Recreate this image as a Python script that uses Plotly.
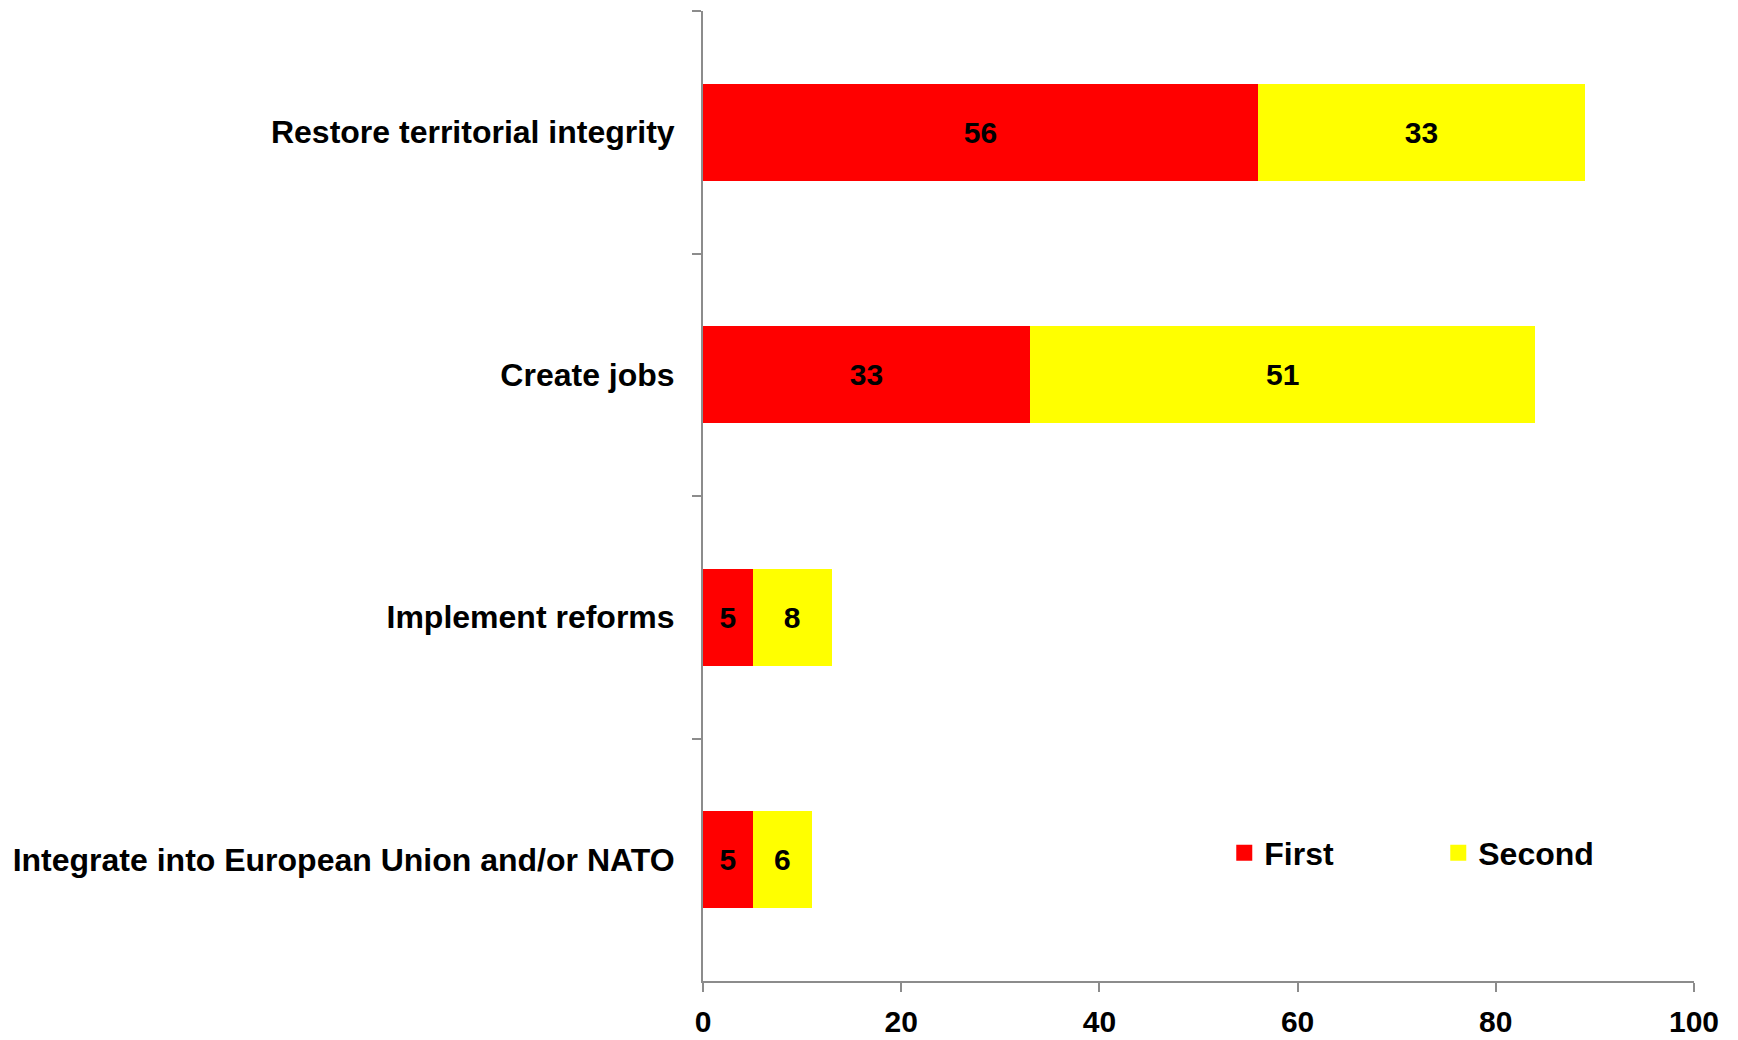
import plotly.graph_objects as go

# Survey priorities: share naming each item as first / second priority (%)
categories = [
    "Restore territorial integrity",
    "Create jobs",
    "Implement reforms",
    "Integrate into European Union and/or NATO",
]
first_values = [56, 33, 5, 5]
second_values = [33, 51, 8, 6]
x_ticks = [0, 20, 40, 60, 80, 100]

series = [
    ("First", first_values, "#FF0000"),
    ("Second", second_values, "#FFFF00"),
]

FONT = "Liberation Sans, Arial, sans-serif"
AXIS_GREY = "#8c8c8c"

fig = go.Figure()
for name, values, color in series:
    fig.add_trace(go.Bar(
        name=name, y=categories, x=values, orientation="h",
        marker=dict(color=color, line=dict(width=0)),
        text=values, textposition="inside", insidetextanchor="middle",
        textangle=0, constraintext="none",
        textfont=dict(family=FONT, size=30, color="black", weight="bold"),
        showlegend=False,
    ))
# legend swatches (larger squares than the default bar swatch)
for name, values, color in series:
    fig.add_trace(go.Scatter(
        name=name, x=[None], y=[None], mode="markers",
        marker=dict(symbol="square", size=17, color=color),
        showlegend=True, hoverinfo="skip",
    ))

fig.update_layout(
    barmode="stack",
    bargap=0.6,
    width=1738, height=1040,
    margin=dict(l=703, r=44, t=11, b=59),
    plot_bgcolor="white", paper_bgcolor="white",
    font=dict(family=FONT, color="black", weight="bold"),
    showlegend=True,
    legend=dict(
        orientation="h", traceorder="normal",
        x=0.526, y=0.132, xanchor="left", yanchor="middle",
        entrywidth=169, entrywidthmode="pixels",
        font=dict(family=FONT, size=32, color="black", weight="bold"),
        itemsizing="trace", bgcolor="rgba(0,0,0,0)",
    ),
)

fig.update_xaxes(
    range=[0, 100], tickvals=x_ticks, ticktext=[str(v) for v in x_ticks],
    showgrid=False, zeroline=False, automargin=False,
    showline=True, linecolor=AXIS_GREY, linewidth=2,
    ticks="outside", ticklen=9, tickcolor=AXIS_GREY, tickwidth=1.5,
    tickfont=dict(family=FONT, size=30, color="black", weight="bold"),
    ticklabelstandoff=4,
)
fig.update_yaxes(
    categoryorder="array", categoryarray=categories, autorange="reversed",
    showgrid=False, zeroline=False, automargin=False,
    showline=True, linecolor=AXIS_GREY, linewidth=2,
    ticks="outside", tickson="boundaries", ticklen=9,
    tickcolor=AXIS_GREY, tickwidth=1.5,
    tickfont=dict(family=FONT, size=32, color="black", weight="bold"),
    ticklabelstandoff=20,
)

fig.write_html("out.html")
